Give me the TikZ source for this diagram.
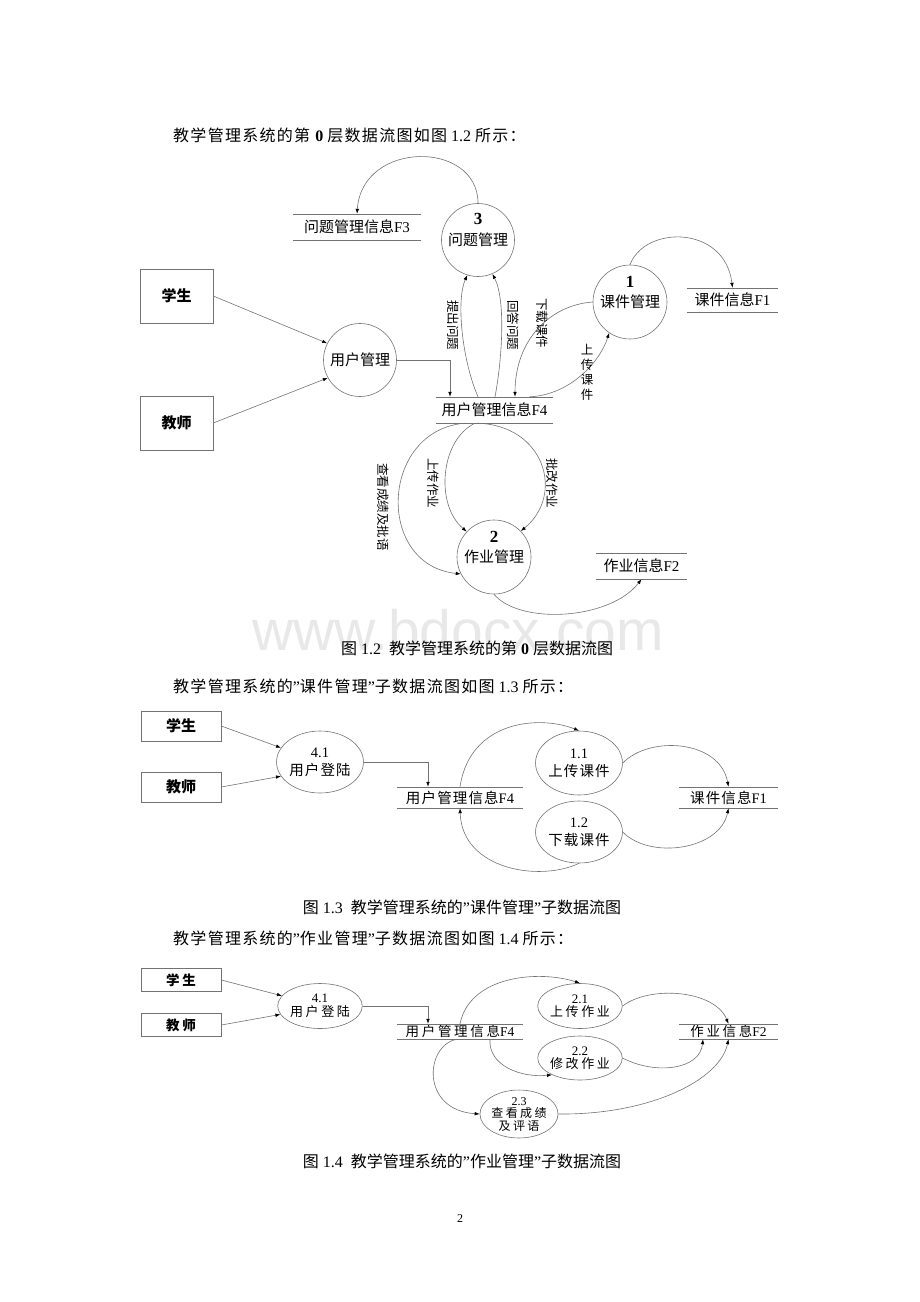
\documentclass[tikz,border=0pt]{standalone}
\usepackage{fontspec}
\setmainfont{Liberation Serif}
\newfontfamily\cjk{Noto Sans CJK SC}
\newfontfamily\cjkm[LetterSpace=8]{Noto Sans CJK SC}
\newfontfamily\cjkw[LetterSpace=20]{Noto Sans CJK SC}
\newfontfamily\wmfont{Liberation Sans}
\newcommand\ZH[1]{{\cjk #1}}
\newcommand\ZM[1]{{\cjkm #1}}
\newcommand\ZW[1]{{\cjkw #1}}
\usetikzlibrary{arrows.meta,shapes.geometric,calc}
\begin{document}
\begin{tikzpicture}[x=1pt,y=-1pt,
  ln/.style={draw=black!55, line width=0.6pt},
  arr/.style={ln, -{Latex[length=5pt,width=3.6pt,color=black]}},
  ent/.style={draw=black!55, line width=0.6pt, inner sep=0pt, font=\fontsize{15}{18}\cjk\bfseries},
  proc/.style={circle, draw=black!55, line width=0.6pt, inner sep=0pt, align=center, font=\fontsize{15}{21}\selectfont},
  ell/.style={ellipse, draw=black!55, line width=0.6pt, inner sep=0pt, align=center},
  num/.style={inner sep=0pt, font=\fontsize{17}{17}\selectfont\bfseries},
  store/.style={inner sep=0pt, append after command={(\tikzlastnode.north west) edge[ln] (\tikzlastnode.north east) (\tikzlastnode.south west) edge[ln] (\tikzlastnode.south east)}},
  lab/.style={font=\fontsize{12.5}{14}\cjk, rotate=-90, inner sep=1pt},
  body/.style={font=\fontsize{16}{19}\selectfont, inner sep=0pt}
]
\useasboundingbox[fill=white] (0,0) rectangle (920,1302);

% ---------- Figure 1.2 ----------
\node[body, anchor=west] (h1) at (173,135) {\ZM{教学管理系统的第} \textbf{0} \ZM{层数据流图如图} 1.2 \ZM{所示：}};

\node[ent, minimum width=73pt, minimum height=54pt] (s1) at (176.5,296) {学生};
\node[ent, minimum width=73pt, minimum height=54pt] (t1) at (176.5,423) {教师};
\node[proc, minimum size=73pt] (um) at (360,360) {\ZH{用户管理}};
\node[store, minimum width=117pt, minimum height=26pt, font=\fontsize{15}{18}\selectfont] (F4) at (494.5,410) {\ZH{用户管理信息}F4};

\node[proc, minimum size=73pt] (P3) at (478,240) {\ZH{问题管理}};
\node[num] (P3n) at (478,219) {3};
\node[store, minimum width=128pt, minimum height=26pt, font=\fontsize{15}{18}\selectfont] (F3) at (357,227) {\ZH{问题管理信息}F3};

\node[proc, minimum size=74pt] (P1) at (630,302) {\ZH{课件管理}};
\node[num] (P1n) at (630,282) {1};
\node[store, minimum width=91pt, minimum height=24pt, font=\fontsize{15}{18}\selectfont] (F1) at (732.5,300) {\ZH{课件信息}F1};

\node[proc, minimum size=74pt] (P2) at (494,557) {\ZH{作业管理}};
\node[num] (P2n) at (494,537) {2};
\node[store, minimum width=91pt, minimum height=26pt, font=\fontsize{15}{18}\selectfont] (F2) at (641.5,566) {\ZH{作业信息}F2};

\draw[arr] (s1.east) -- (um.153);
\draw[arr] (t1.east) -- (um.209);
\draw[arr] (um.east) -| ([xshift=-44.5pt]F4.north);

\draw[arr] (P3.north) .. controls (478,140) and (362,140) .. (F3.north);
\draw[arr] ([xshift=-16.5pt]F4.north) .. controls (462,360) and (456,300) .. (P3.253);
\draw[arr] ([xshift=0.5pt]F4.north) .. controls (502,360) and (506,300) .. (P3.293);

\draw[arr] (P1.north) .. controls (645,225) and (725,225) .. (F1.north);
\draw[arr] (P1.west) .. controls (550,305) and (515,340) .. ([xshift=20.5pt]F4.north);
\draw[arr] ([xshift=35pt]F4.north) .. controls (570,395) and (600,362) .. (P1.236);

\draw[arr] (P2.south) .. controls (520,625) and (610,620) .. (F2.south);
\draw[arr] ([xshift=-19.5pt]F4.south) .. controls (440,440) and (435,505) .. (P2.137);
\draw[arr] ([xshift=-17.5pt]F4.south) .. controls (545,425) and (565,495) .. (P2.44);
\draw[arr] ([xshift=-29.5pt]F4.south) .. controls (380,430) and (375,565) .. (P2.207);

\node[lab] (l1) at (453,325) {提出问题};
\node[lab] (l2) at (513,325) {回答问题};
\node[lab] (l3) at (542,323) {下载课件};
\node[font=\fontsize{12.5}{15}\cjk, align=center, inner sep=0pt] (l4) at (587,372) {上\\传\\课\\件};
\node[lab] (l5) at (433,483) {上传作业};
\node[lab] (l6) at (552,483) {批改作业};
\node[lab] (l7) at (383,507) {查看成绩及批语};

\node[font=\fontsize{57}{57}\wmfont, text=black!9, inner sep=0pt] (wm) at (458,630) {www.bdocx.com};
\node[body] (c1) at (477,648) {\ZH{图} 1.2\ \ \ZH{教学管理系统的第} \textbf{0} \ZH{层数据流图}};

% ---------- Figure 1.3 ----------
\node[body, anchor=west] (h2) at (173,686) {\ZM{教学管理系统的}”\ZM{课件管理}”\ZM{子数据流图如图} 1.3 \ZM{所示：}};

\node[ent, minimum width=80pt, minimum height=30pt] (s2) at (181,726) {学生};
\node[ent, minimum width=80pt, minimum height=30pt] (t2) at (181,787) {教师};
\node[ell, minimum width=81pt, minimum height=62pt, font=\fontsize{14.5}{18}\selectfont] (L2) at (320,762) {4.1\\\ZM{用户登陆}};
\node[store, minimum width=126pt, minimum height=21pt, font=\fontsize{14.5}{18}\selectfont] (F4b) at (460,797.5) {\ZM{用户管理信息}F4};
\node[ell, minimum width=80pt, minimum height=64pt, font=\fontsize{14.5}{18}\selectfont] (U1) at (579,763) {1.1\\\ZM{上传课件}};
\node[ell, minimum width=80pt, minimum height=62pt, font=\fontsize{14.5}{18}\selectfont] (U2) at (579,832) {1.2\\\ZM{下载课件}};
\node[store, minimum width=99pt, minimum height=21pt, font=\fontsize{14.5}{18}\selectfont] (F1b) at (728.5,797.5) {\ZM{课件信息}F1};

\draw[arr] (s2.east) -- (L2.160);
\draw[arr] (t2.east) -- (L2.200);
\draw[arr] (L2.east) -| ([xshift=-32pt]F4b.north);
\draw[arr] (F4b.north) .. controls (470,720) and (540,715) .. (U1.north);
\draw[arr] (U1.east) .. controls (650,735) and (720,740) .. (F1b.north);
\draw[arr] (U2.east) .. controls (650,860) and (720,850) .. (F1b.south);
\draw[arr] (U2.south) .. controls (540,882) and (462,870) .. (F4b.south);

\node[body] (c2) at (462,907) {\ZH{图} 1.3\ \ \ZH{教学管理系统的}”\ZH{课件管理}”\ZH{子数据流图}};

% ---------- Figure 1.4 ----------
\node[body, anchor=west] (h3) at (173,938) {\ZM{教学管理系统的}”\ZM{作业管理}”\ZM{子数据流图如图} 1.4 \ZM{所示：}};

\node[ent, minimum width=80pt, minimum height=23pt, font=\fontsize{13.5}{15}\cjkw\bfseries] (s3) at (181,980) {学生};
\node[ent, minimum width=80pt, minimum height=23pt, font=\fontsize{13.5}{15}\cjkw\bfseries] (t3) at (181,1025) {教师};
\node[ell, minimum width=81pt, minimum height=45pt, font=\fontsize{13}{14}\selectfont] (L3) at (320,1006) {4.1\\\ZW{用户登陆}};
\node[store, minimum width=126pt, minimum height=15pt, font=\fontsize{13.5}{14}\selectfont] (F4c) at (460,1031.5) {\ZW{用户管理信息}F4};
\node[ell, minimum width=79pt, minimum height=45pt, font=\fontsize{13}{13.5}\selectfont] (V1) at (580,1006) {2.1\\\ZW{上传作业}};
\node[ell, minimum width=79pt, minimum height=44pt, font=\fontsize{13}{13.5}\selectfont] (V2) at (580,1058) {2.2\\\ZW{修改作业}};
\node[ell, minimum width=78pt, minimum height=46pt, font=\fontsize{12}{12.5}\selectfont] (V3) at (519,1114) {2.3\\\ZW{查看成绩}\\\ZW{及评语}};
\node[store, minimum width=99pt, minimum height=15pt, font=\fontsize{13.5}{14}\selectfont] (F2c) at (728.5,1031.5) {\ZW{作业信息}F2};

\draw[arr] (s3.east) -- (L3.165);
\draw[arr] (t3.east) -- (L3.192);
\draw[arr] (L3.east) -| ([xshift=-32pt]F4c.north);
\draw[arr] (F4c.north) .. controls (470,975) and (540,970) .. (V1.north);
\draw[arr] (V1.east) .. controls (650,985) and (715,990) .. (F2c.north);
\draw[arr] ([xshift=30pt]F4c.south) .. controls (488,1065) and (520,1078) .. (V2.211);
\draw[arr] (V2.east) .. controls (655,1075) and (700,1070) .. ([xshift=-25.5pt]F2c.south);
\draw[arr] ([xshift=-3pt]F4c.south) .. controls (425,1045) and (420,1110) .. (V3.west);
\draw[arr] (V3.east) .. controls (650,1115) and (720,1080) .. (F2c.south);

\node[body] (c3) at (462,1161) {\ZH{图} 1.4\ \ \ZH{教学管理系统的}”\ZH{作业管理}”\ZH{子数据流图}};
\node[font=\fontsize{12}{14}\selectfont, inner sep=0pt] (pg) at (460,1219) {2};
\end{tikzpicture}
\end{document}
